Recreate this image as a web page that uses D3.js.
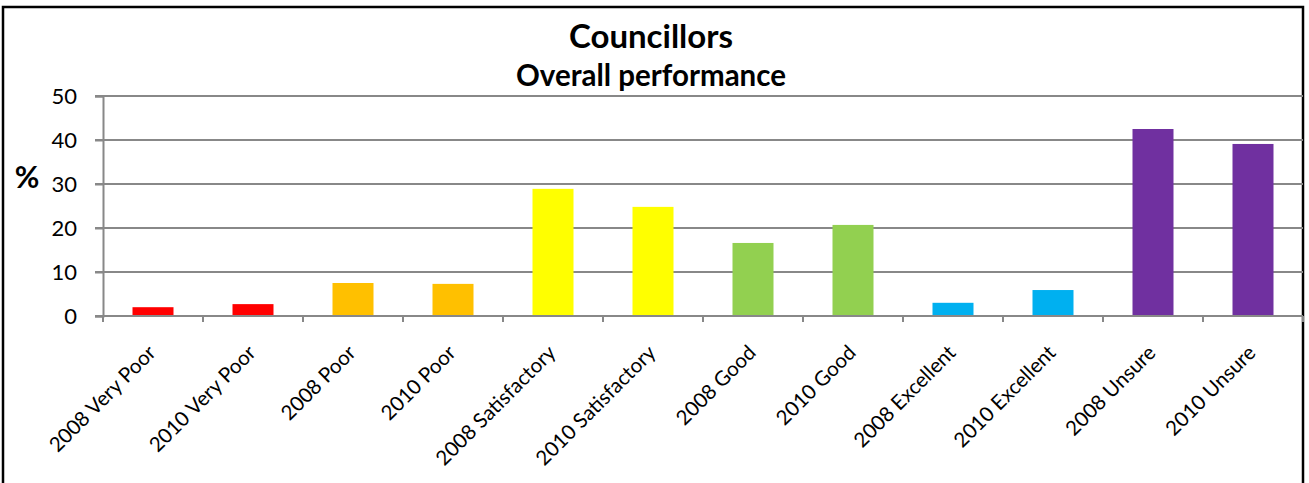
<!DOCTYPE html>
<html>
<head>
<meta charset="utf-8">
<script src="https://cdn.jsdelivr.net/npm/d3@7"></script>
<style>
  html, body { margin: 0; padding: 0; background: #fff; }
  svg { display: block; }
  text { font-family: Lato, "Open Sans", sans-serif; fill: #000; }
</style>
</head>
<body>
<svg id="chart" width="1309" height="483"></svg>
<script>
const categories = ["2008 Very Poor", "2010 Very Poor", "2008 Poor", "2010 Poor",
  "2008 Satisfactory", "2010 Satisfactory", "2008 Good", "2010 Good",
  "2008 Excellent", "2010 Excellent", "2008 Unsure", "2010 Unsure"];
const values = [2.0, 2.7, 7.5, 7.3, 28.9, 24.8, 16.6, 20.7, 3.0, 5.9, 42.5, 39.1];
const barColors = ["#FF0000", "#FF0000", "#FFC000", "#FFC000", "#FFFF00", "#FFFF00",
  "#92D050", "#92D050", "#00B0F0", "#00B0F0", "#7030A0", "#7030A0"];
const yTicks = [0, 10, 20, 30, 40, 50];
const title = "Councillors";
const subtitle = "Overall performance";
const yLabel = "%";

const svg = d3.select("#chart");
const pLeft = 103, pRight = 1303, pTop = 96, pBottom = 316;

// outer border
svg.append("rect").attr("x", 3).attr("y", 7).attr("width", 1300).attr("height", 490)
  .attr("fill", "none").attr("stroke", "#000").attr("stroke-width", 2.5);

const x = d3.scaleBand().domain(categories).range([pLeft, pRight])
  .paddingInner(0.59).paddingOuter(0.295);
const y = d3.scaleLinear().domain([0, 50]).range([pBottom, pTop]);

// gridlines
svg.append("g").selectAll("line").data(yTicks.filter(d => d > 0)).join("line")
  .attr("x1", pLeft - 8).attr("x2", pRight)
  .attr("y1", d => y(d)).attr("y2", d => y(d))
  .attr("stroke", "#888").attr("stroke-width", 2);

// y axis
const yAxis = d3.axisLeft(y).tickValues(yTicks).tickSize(8).tickPadding(18);
const gy = svg.append("g").attr("transform", `translate(${pLeft},0)`).call(yAxis);
gy.select(".domain").attr("stroke", "#888").attr("stroke-width", 2);
gy.selectAll(".tick line").attr("stroke", "#888").attr("stroke-width", 2);
gy.selectAll(".tick text").style("font-size", "22px").style("font-family", "Lato, sans-serif")
  .attr("fill", "#000").attr("x", -26);

// bars
svg.append("g").selectAll("rect").data(values).join("rect")
  .attr("x", (d, i) => x(categories[i]))
  .attr("width", x.bandwidth())
  .attr("y", d => y(d))
  .attr("height", d => y(0) - y(d))
  .attr("fill", (d, i) => barColors[i]);

// x axis
const step = x.step();
const tickPos = d3.range(categories.length + 1).map(i => pLeft + i * step);
svg.append("line").attr("x1", pLeft - 8).attr("x2", pRight).attr("y1", pBottom).attr("y2", pBottom)
  .attr("stroke", "#888").attr("stroke-width", 2);
svg.append("g").selectAll("line").data(tickPos).join("line")
  .attr("x1", d => d).attr("x2", d => d).attr("y1", pBottom).attr("y2", pBottom + 6)
  .attr("stroke", "#888").attr("stroke-width", 2);

// x labels
svg.append("g").selectAll("text").data(categories).join("text")
  .attr("transform", d => `translate(${x(d) + x.bandwidth() / 2 + 4},354) rotate(-45)`)
  .attr("text-anchor", "end")
  .style("font-size", "20.5px")
  .text(d => d);

// titles
svg.append("text").attr("x", 651).attr("y", 48).attr("text-anchor", "middle")
  .style("font-size", "33px").style("font-weight", "bold").text(title);
svg.append("text").attr("x", 651).attr("y", 86).attr("text-anchor", "middle")
  .style("font-size", "29.5px").style("font-weight", "bold").text(subtitle);

// y label
svg.append("text").attr("x", 27).attr("y", 188).attr("text-anchor", "middle")
  .style("font-size", "30px").style("font-weight", "bold").text(yLabel);
</script>
</body>
</html>
